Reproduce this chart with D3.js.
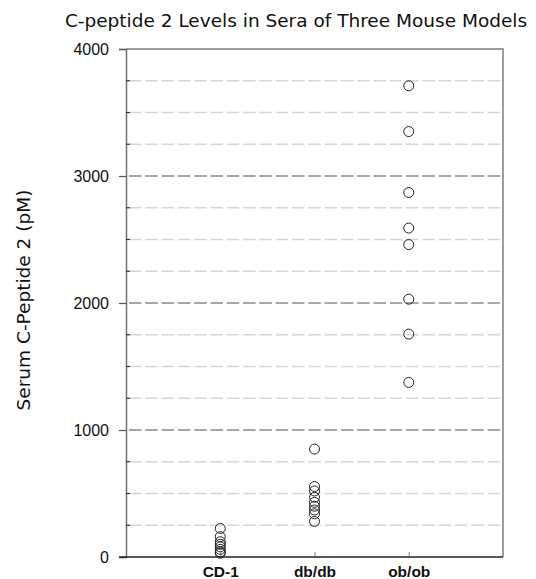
<!DOCTYPE html>
<html>
<head>
<meta charset="utf-8">
<script src="https://cdn.jsdelivr.net/npm/d3@7"></script>
<style>
  body { margin: 0; background: #fff; }
  svg { display: block; }
</style>
</head>
<body>
<svg id="chart"></svg>
<script>
// data
const groups = ['CD-1', 'db/db', 'ob/ob'];
const cd1 = [225, 160, 120, 100, 80, 60, 40, 30];
const dbdb = [850, 555, 520, 470, 430, 400, 370, 340, 280];
const obob = [3710, 3350, 2870, 2590, 2460, 2030, 1755, 1375];
const yTicks = [0, 1000, 2000, 3000, 4000];

const title = 'C-peptide 2 Levels in Sera of Three Mouse Models';
const yTitle = 'Serum C-Peptide 2 (pM)';

const W = 536, H = 579;
const margin = { top: 49, right: 33, bottom: 22, left: 126 };
const width = W - margin.left - margin.right;
const height = H - margin.top - margin.bottom;

const points = [cd1, dbdb, obob].flatMap((vals, i) =>
  vals.map(v => ({ group: groups[i], pos: i + 1, value: v })));

const x = d3.scaleLinear().domain([0, 4]).range([0, width]);
const y = d3.scaleLinear().domain([0, 4000]).range([height, 0]);

const svg = d3.select('#chart').attr('width', W).attr('height', H);

svg.append('text')
  .attr('x', 296)
  .attr('y', 27)
  .attr('text-anchor', 'middle')
  .style('font-family', 'DejaVu Sans, Verdana, sans-serif')
  .style('font-size', '18.5px')
  .attr('fill', '#111')
  .text(title);

svg.append('text')
  .attr('transform', `translate(23,300) rotate(-90)`)
  .attr('text-anchor', 'middle')
  .attr('dominant-baseline', 'central')
  .style('font-family', 'DejaVu Sans, Verdana, sans-serif')
  .style('font-size', '18.5px')
  .attr('fill', '#111')
  .text(yTitle);

const g = svg.append('g')
  .attr('transform', `translate(${margin.left},${margin.top})`);

// grid lines every 250, darker at the thousands
const gridVals = d3.range(250, 4000, 250);
g.append('g')
  .selectAll('line')
  .data(gridVals)
  .join('line')
  .attr('x1', 3)
  .attr('x2', width)
  .attr('y1', d => y(d))
  .attr('y2', d => y(d))
  .attr('stroke', d => d % 1000 === 0 ? '#8a8a8a' : '#d6d6d6')
  .attr('stroke-width', 1.3)
  .attr('stroke-dasharray', '12.5 3.8');

// frame (top and right)
g.append('path')
  .attr('d', `M0,0H${width}V${height}`)
  .attr('fill', 'none')
  .attr('stroke', '#808080')
  .attr('stroke-width', 1.5);

// left axis
const yAxis = g.append('g')
  .call(d3.axisLeft(y).tickValues(yTicks).tickSize(7).tickPadding(10).tickFormat(d3.format('d')));
yAxis.select('.domain').attr('stroke', '#707070').attr('stroke-width', 1.5);
yAxis.selectAll('.tick line').attr('stroke', '#555').attr('stroke-width', 1.2);
yAxis.selectAll('.tick text')
  .style('font-family', 'Liberation Sans, Arial, sans-serif')
  .style('font-size', '16px')
  .attr('fill', '#111');

// minor ticks pointing inward
g.append('g')
  .selectAll('line')
  .data(gridVals.filter(d => d % 1000 !== 0))
  .join('line')
  .attr('x1', 0)
  .attr('x2', 4)
  .attr('y1', d => y(d))
  .attr('y2', d => y(d))
  .attr('stroke', '#333')
  .attr('stroke-width', 1.2);

// bottom axis
const xAxis = g.append('g')
  .attr('transform', `translate(0,${height})`)
  .call(d3.axisBottom(x).tickValues([1, 2, 3]).tickSize(-5).tickPadding(0)
    .tickFormat(d => groups[d - 1]));
xAxis.select('.domain').remove();
xAxis.append('line')
  .attr('x1', -7).attr('x2', width)
  .attr('stroke', '#222').attr('stroke-width', 1.5);
xAxis.selectAll('.tick line').attr('stroke', '#999').attr('stroke-width', 1.2);
xAxis.selectAll('.tick text')
  .attr('y', 20)
  .attr('dy', null)
  .style('font-family', 'Liberation Sans, Arial, sans-serif')
  .style('font-size', '15.5px')
  .style('font-weight', 'bold')
  .attr('fill', '#111');

// points
g.append('g')
  .selectAll('circle')
  .data(points)
  .join('circle')
  .attr('cx', d => x(d.pos))
  .attr('cy', d => y(d.value))
  .attr('r', 5)
  .attr('fill', 'none')
  .attr('stroke', '#222')
  .attr('stroke-width', 1);
</script>
</body>
</html>
